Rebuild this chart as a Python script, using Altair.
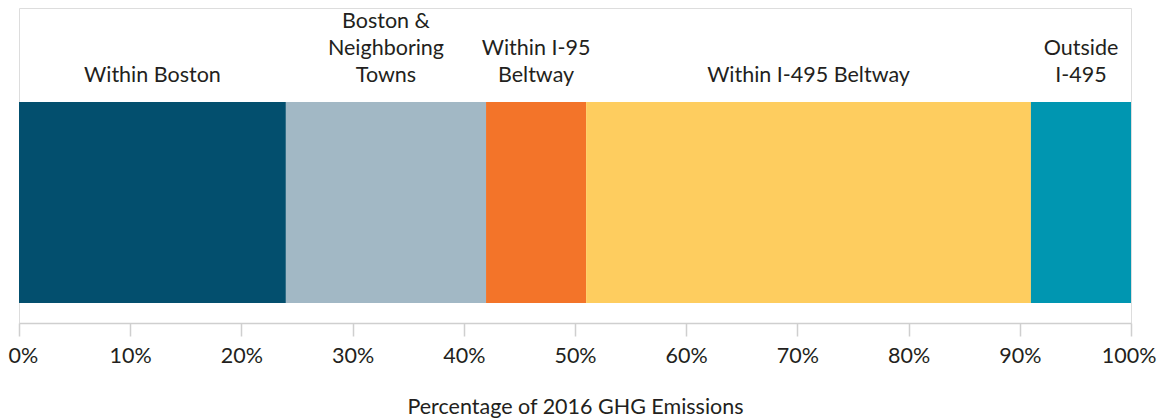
import altair as alt
import pandas as pd

regions = ["Within Boston", "Boston & Neighboring Towns", "Within I-95 Beltway",
           "Within I-495 Beltway", "Outside I-495"]
label_text = ["Within Boston", "Boston &\nNeighboring\nTowns", "Within I-95\nBeltway",
              "Within I-495 Beltway", "Outside\nI-495"]
shares = [24, 18, 9, 40, 9]
colors = ["#034F6E", "#A2B8C5", "#F37429", "#FECD5F", "#0096B1"]

df = pd.DataFrame({"region": regions, "label": label_text, "share": shares})
df["start"] = df["share"].cumsum() - df["share"]
df["end"] = df["share"].cumsum()
df["mid"] = (df["start"] + df["end"]) / 2

FONT = "Lato"
TXT = "#231F20"
FS = 21.5

x_scale = alt.Scale(domain=[0, 100], nice=False, zero=True)

bars = alt.Chart(df).mark_bar().encode(
    x=alt.X("start:Q", scale=x_scale,
            axis=alt.Axis(title="Percentage of 2016 GHG Emissions",
                          values=list(range(0, 101, 10)),
                          labelExpr="datum.value + '%'",
                          grid=False, domainColor="#CFCFCF", tickColor="#CFCFCF",
                          tickSize=13, tickWidth=1.5, domainWidth=1.5,
                          labelFont=FONT, labelFontSize=FS, labelColor=TXT,
                          labelPadding=9, titleFont=FONT, titleFontSize=FS,
                          titleFontWeight="normal", titleColor=TXT, titlePadding=30,
                          labelFlush=False,
                          labelAlign=alt.expr("datum.value == 0 ? 'left' : datum.value == 100 ? 'right' : 'center'"),
                          labelOffset=alt.expr("datum.value == 0 ? -11 : datum.value == 100 ? 25 : 0"))),
    x2="end:Q",
    y=alt.value(94),
    y2=alt.value(295),
    color=alt.Color("region:N", scale=alt.Scale(domain=regions, range=colors), legend=None),
)

labels = alt.Chart(df).transform_calculate(
    nl="length(split(datum.label, '\\n'))"
).transform_calculate(
    ypix="74 - (datum.nl - 1) * 27"
).mark_text(
    font=FONT, fontSize=FS, color=TXT, lineBreak="\n", baseline="alphabetic",
    align="center", lineHeight=27
).encode(
    x=alt.X("mid:Q", scale=x_scale),
    y=alt.Y("ypix:Q", scale=alt.Scale(domain=[0, 315], range=[0, 315]), axis=None),
    text="label:N",
)

chart = alt.layer(bars, labels).properties(
    width=1112, height=315,
    autosize=alt.AutoSizeParams(type="none"),
    padding={"left": 11, "right": 26, "top": 0, "bottom": 95},
).configure_view(stroke=None).configure(background="white")

chart.save("out.html", embed_options={"renderer": "svg", "actions": False})
